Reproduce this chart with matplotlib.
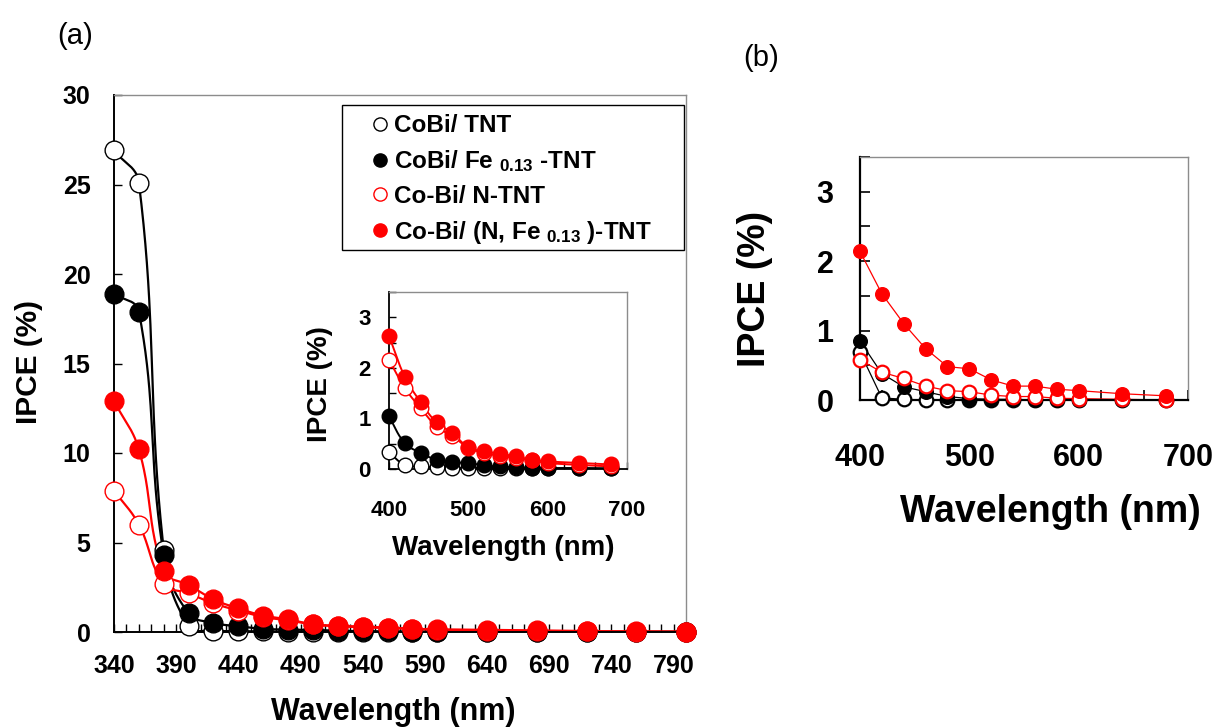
import numpy as np
import matplotlib
matplotlib.use("Agg")
import matplotlib.pyplot as plt
from matplotlib.lines import Line2D
from matplotlib.patches import Rectangle
from matplotlib.ticker import MultipleLocator, FixedLocator

plt.rcParams["font.family"] = ["Liberation Sans", "DejaVu Sans"]
plt.rcParams["font.weight"] = "bold"
plt.rcParams["mathtext.fontset"] = "custom"
plt.rcParams["mathtext.rm"] = "Liberation Sans:bold"
plt.rcParams["mathtext.it"] = "Liberation Sans:bold"
plt.rcParams["mathtext.bf"] = "Liberation Sans:bold"

# ---------------- data ----------------
series_labels = [
    "CoBi/ TNT",
    r"CoBi/ Fe $_{0.13}$ -TNT",
    "Co-Bi/ N-TNT",
    r"Co-Bi/ (N, Fe $_{0.13}$ )-TNT",
]

# panel (a): full spectrum
wl_a = [340, 360, 380, 400, 420, 440, 460, 480, 500, 520, 540, 560, 580, 600,
        640, 680, 720, 760, 800]
a_cobi_tnt = [26.9, 25.1, 4.6, 0.33, 0.08, 0.05, 0.03, 0.02, 0.02, 0.02, 0.02,
              0.01, 0.01, 0.01, 0.01, 0.01, 0.01, 0.01, 0.01]
a_cobi_fe = [18.9, 17.9, 4.3, 1.04, 0.51, 0.32, 0.18, 0.13, 0.12, 0.07, 0.05,
             0.03, 0.02, 0.02, 0.02, 0.01, 0.01, 0.01, 0.01]
a_cobi_n = [7.9, 6.0, 2.7, 2.16, 1.60, 1.20, 0.84, 0.65, 0.42, 0.32, 0.26,
            0.22, 0.17, 0.12, 0.08, 0.05, 0.03, 0.02, 0.01]
a_cobi_nfe = [12.9, 10.2, 3.4, 2.63, 1.82, 1.32, 0.92, 0.71, 0.43, 0.35, 0.30,
              0.25, 0.18, 0.15, 0.12, 0.09, 0.05, 0.03, 0.02]
a_xticks = [340, 390, 440, 490, 540, 590, 640, 690, 740, 790]

# panel (b)
wl_b = [400, 420, 440, 460, 480, 500, 520, 540, 560, 580, 600, 640, 680]
b_cobi_tnt = [0.69, 0.03, 0.01, 0.0, 0.0, 0.0, 0.0, 0.0, 0.0, 0.0, 0.0, 0.0, 0.0]
b_cobi_fe = [0.85, 0.38, 0.19, 0.12, 0.05, 0.02, 0.01, 0.01, 0.0, 0.0, 0.0, 0.0, 0.0]
b_cobi_n = [0.58, 0.40, 0.31, 0.20, 0.135, 0.12, 0.07, 0.05, 0.05, 0.025, 0.02, 0.01, 0.0]
b_cobi_nfe = [2.14, 1.53, 1.10, 0.74, 0.48, 0.45, 0.29, 0.20, 0.20, 0.155, 0.135, 0.09, 0.06]

RED = "#ff0000"
styles = [
    dict(color="black", mfc="white", mec="black"),
    dict(color="black", mfc="black", mec="black"),
    dict(color=RED, mfc="white", mec=RED),
    dict(color=RED, mfc=RED, mec=RED),
]

W, H = 1219, 728
fig = plt.figure(figsize=(W / 100, H / 100), dpi=100)


def px_axes(l, t, r, b):
    return fig.add_axes([l / W, (H - b) / H, (r - l) / W, (b - t) / H])


def smooth(ax, x, y, n=40, k=0.4):
    """Smooth Bezier curve through the points; tangents follow the
    neighbouring points, handle lengths follow each segment's length
    (computed in screen proportions)."""
    x = np.asarray(x, float)
    y = np.asarray(y, float)
    x0, x1 = ax.get_xlim()
    y0, y1 = ax.get_ylim()
    pos = ax.get_position()
    sx = pos.width * W / (x1 - x0)
    sy = pos.height * H / (y1 - y0)
    P = np.column_stack([(x - x0) * sx, (y - y0) * sy])
    m = len(P)
    T = np.zeros_like(P)
    for i in range(m):
        a = P[max(i - 1, 0)]
        b = P[min(i + 1, m - 1)]
        d = b - a
        T[i] = d / np.hypot(*d)
    out = []
    for i in range(m - 1):
        p1, p2 = P[i], P[i + 1]
        L = np.hypot(*(p2 - p1))
        c1 = p1 + T[i] * L * k
        c2 = p2 - T[i + 1] * L * k
        t = np.linspace(0, 1, n, endpoint=(i == m - 2))[:, None]
        out.append((1 - t) ** 3 * p1 + 3 * (1 - t) ** 2 * t * c1
                   + 3 * (1 - t) * t ** 2 * c2 + t ** 3 * p2)
    out = np.vstack(out)
    return out[:, 0] / sx + x0, out[:, 1] / sy + y0


def style_spines(ax, lw_main, lw_frame=1.0):
    ax.spines["left"].set_color("black")
    ax.spines["bottom"].set_color("black")
    ax.spines["left"].set_linewidth(lw_main)
    ax.spines["bottom"].set_linewidth(lw_main)
    for s in ("top", "right"):
        ax.spines[s].set_color("#8c8c8c")
        ax.spines[s].set_linewidth(lw_frame)


# ---------------- panel (a) ----------------
ax = px_axes(114, 95, 686, 632)
ax.set_xlim(340, 800)
ax.set_ylim(0, 30)
ax.xaxis.set_major_locator(FixedLocator(a_xticks))
ax.xaxis.set_minor_locator(MultipleLocator(10))
ax.yaxis.set_major_locator(MultipleLocator(5))
ax.tick_params(which="both", direction="in", length=6, width=1, top=False, right=False)
ax.tick_params(axis="x", labelsize=18, pad=16)
ax.tick_params(axis="y", labelsize=18, pad=17)
style_spines(ax, 1.4)

series_a = [a_cobi_tnt, a_cobi_fe, a_cobi_n, a_cobi_nfe]
for vals, st in zip(series_a, styles):
    xs, ys = smooth(ax, wl_a, vals)
    ax.plot(xs, ys, color=st["color"], lw=1.6, zorder=2)
for vals, st in zip(series_a, styles):
    ax.plot(wl_a, vals, "o", ms=13.5, mfc=st["mfc"], mec=st["mec"], mew=1.0,
            clip_on=False, zorder=3)

# legend box
ax.add_patch(Rectangle((342 / W, (H - 250) / H), 342 / W, 145 / H,
                       transform=fig.transFigure, facecolor="white",
                       edgecolor="black", lw=1.0, zorder=4))
handles = [Line2D([], [], ls="none", marker="o", ms=9.5, mfc=st["mfc"],
                  mec=st["mec"], mew=1.0) for st in styles]
ax.legend(handles, series_labels, loc="upper left",
          bbox_to_anchor=(361 / W, (H - 102) / H), bbox_transform=fig.transFigure,
          frameon=False, borderpad=0, handlelength=0.6, handletextpad=0.25,
          labelspacing=0.45, fontsize=17.5).set_zorder(5)

fig.text(29 / W, 1 - 362 / H, "IPCE (%)", rotation=90, ha="center", va="center",
         fontsize=21.5)
fig.text(393 / W, 1 - 712 / H, "Wavelength (nm)", ha="center", va="center",
         fontsize=22)
fig.text(75 / W, 1 - 36 / H, "(a)", ha="center", va="center", fontsize=21,
         fontweight="normal")

# ---------------- inset of (a) ----------------
axi = px_axes(389, 292, 627, 469)
axi.set_xlim(400, 700)
axi.set_ylim(0, 3.5)
axi.xaxis.set_major_locator(MultipleLocator(100))
axi.xaxis.set_minor_locator(MultipleLocator(20))
axi.yaxis.set_major_locator(MultipleLocator(1))
axi.yaxis.set_minor_locator(MultipleLocator(0.5))
axi.tick_params(which="both", direction="in", length=5, width=1, top=False, right=False)
axi.tick_params(axis="x", labelsize=16, pad=22)
axi.tick_params(axis="y", labelsize=16, pad=13)
style_spines(axi, 1.3)

start = wl_a.index(400)
stop = wl_a.index(680) + 1
for vals, st in zip(series_a, styles):
    xs, ys = smooth(axi, wl_a[start:stop], vals[start:stop])
    axi.plot(xs, ys, color=st["color"], lw=1.4, zorder=2)
for vals, st in zip(series_a, styles):
    axi.plot(wl_a[start:stop], vals[start:stop], "o", ms=10.5, mfc=st["mfc"],
             mec=st["mec"], mew=1.0, clip_on=False, zorder=3)

fig.text(320 / W, 1 - 384 / H, "IPCE (%)", rotation=90, ha="center", va="center",
         fontsize=20)
fig.text(503 / W, 1 - 548 / H, "Wavelength (nm)", ha="center", va="center",
         fontsize=20)

# ---------------- panel (b) ----------------
axb = px_axes(860, 157, 1188, 400)
axb.set_xlim(400, 700)
axb.set_ylim(0, 3.5)
axb.xaxis.set_major_locator(MultipleLocator(100))
axb.xaxis.set_minor_locator(MultipleLocator(20))
axb.yaxis.set_major_locator(MultipleLocator(1))
axb.yaxis.set_minor_locator(MultipleLocator(0.5))
axb.tick_params(which="both", direction="in", length=7, width=1.2, top=False, right=False)
axb.tick_params(axis="x", labelsize=22, pad=31)
axb.tick_params(axis="y", labelsize=22, pad=19)
style_spines(axb, 1.6)

series_b = [b_cobi_tnt, b_cobi_fe, b_cobi_n, b_cobi_nfe]
for vals, st in zip(series_b, styles):
    axb.plot(wl_b, vals, color=st["color"], lw=0.9, zorder=2)
for vals, st in zip(series_b, styles):
    axb.plot(wl_b, vals, "o", ms=9.8, mfc=st["mfc"], mec=st["mec"],
             mew=1.6 if st["mfc"] == "white" else 1.0, clip_on=False, zorder=3)

fig.text(755 / W, 1 - 289 / H, "IPCE (%)", rotation=90, ha="center", va="center",
         fontsize=27)
fig.text(1050 / W, 1 - 512 / H, "Wavelength (nm)", ha="center", va="center",
         fontsize=27)
fig.text(761 / W, 1 - 58 / H, "(b)", ha="center", va="center", fontsize=21,
         fontweight="normal")

fig.savefig("out.png", dpi=100)
